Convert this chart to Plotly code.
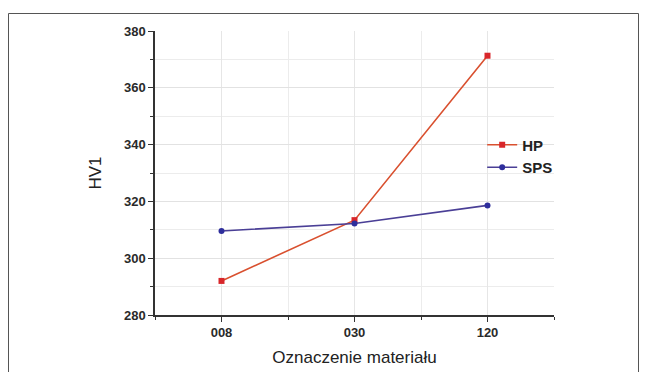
import plotly.graph_objects as go

categories = ["008", "030", "120"]
hp_values = [292.0, 313.4, 371.3]
sps_values = [309.6, 312.2, 318.6]
y_ticks = [280, 300, 320, 340, 360, 380]

L, R, T, B = 155, 92, 31, 57
W, H = 646, 372
pw, ph = W - L - R, H - T - B

fig = go.Figure()
fig.add_trace(go.Scatter(
    x=list(range(len(categories))), y=hp_values, name="<b>HP</b>", mode="lines+markers",
    line=dict(color="#d9502f", width=1.6),
    marker=dict(symbol="square", size=6, color="#d8262a"),
))
fig.add_trace(go.Scatter(
    x=list(range(len(categories))), y=sps_values, name="<b>SPS</b>", mode="lines+markers",
    line=dict(color="#4a3f96", width=1.6),
    marker=dict(symbol="circle", size=6, color="#2e2e9c"),
))

axis_font = dict(family="Liberation Sans, Arial", size=13, color="#2a2a2a", weight="bold")
fig.update_layout(
    width=W, height=H,
    margin=dict(l=L, r=R, t=T, b=B),
    paper_bgcolor="white", plot_bgcolor="white",
    showlegend=True,
    legend=dict(x=0.82, y=0.56, xanchor="left", yanchor="middle",
                bgcolor="rgba(0,0,0,0)", tracegroupgap=0, itemwidth=30,
                font=dict(family="Liberation Sans, Arial", size=15, color="#222222")),
    xaxis=dict(
        automargin=False,
        range=[-0.5, 2.5], tickmode="array", tickvals=list(range(len(categories))),
        ticktext=categories, showline=True, linecolor="#333333", linewidth=1.5,
        ticks="outside", ticklen=5, tickcolor="#333333", tickfont=axis_font,
        showgrid=True, gridcolor="#e6e6e6", gridwidth=1, zeroline=False,
        minor=dict(dtick=0.5, tick0=-0.5, ticks="outside", ticklen=3, tickcolor="#333333",
                   showgrid=True, gridcolor="#ececec"),
        title=dict(text="Oznaczenie materiału", font=dict(family="Liberation Sans, Arial", size=17, color="#222222"), standoff=12),
    ),
    yaxis=dict(
        automargin=False,
        range=[280, 380], tickmode="array", tickvals=y_ticks,
        showline=True, linecolor="#333333", linewidth=1.5,
        ticks="outside", ticklen=5, tickcolor="#333333", tickfont=axis_font,
        showgrid=True, gridcolor="#e2e2e2", gridwidth=1, zeroline=False,
        minor=dict(dtick=10, tick0=280, ticks="outside", ticklen=3, tickcolor="#333333",
                   showgrid=True, gridcolor="#ececec"),
        title=dict(text="HV1", font=dict(family="Liberation Sans, Arial", size=17, color="#222222"), standoff=18),
    ),
)

# outer frame around figure
fig.add_shape(type="rect", xref="paper", yref="paper",
              x0=(8.5 - L) / pw, x1=(638.5 - L) / pw,
              y0=-(B + 20) / ph, y1=(ph + T - 13.5) / ph,
              line=dict(color="#555555", width=1), layer="below")

fig.write_html("out.html")
